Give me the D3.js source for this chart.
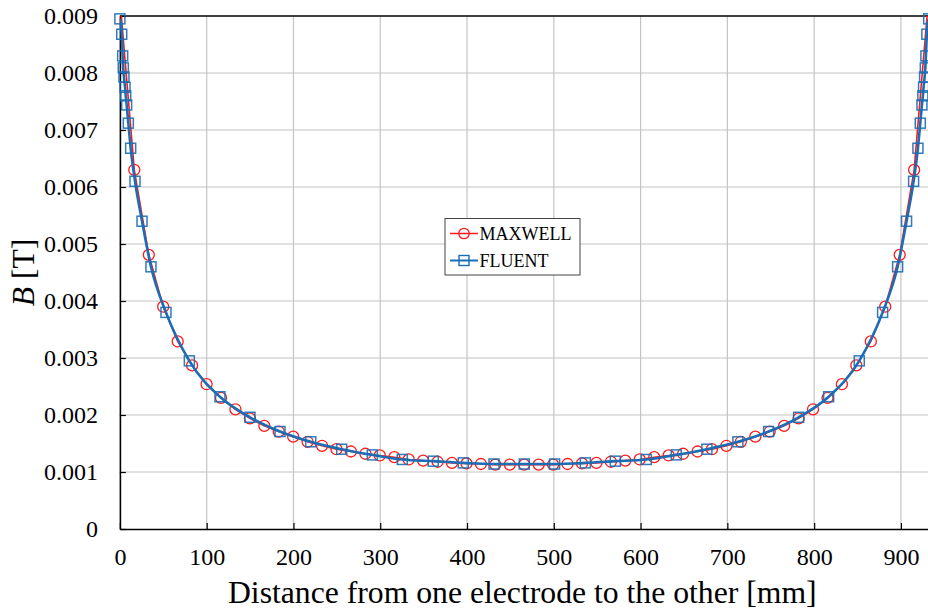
<!DOCTYPE html>
<html>
<head>
<meta charset="utf-8">
<script src="https://cdn.jsdelivr.net/npm/d3@7"></script>
<style>
  html, body { margin: 0; padding: 0; background: #fff; }
  svg { display: block; }
  text { font-family: "Liberation Serif", "Times New Roman", serif; fill: #000; }
</style>
</head>
<body>
<svg id="chart" width="928" height="615"></svg>
<script>
// Distance along the channel [mm] and magnetic flux density B [T]
const maxwellX = [0, 16.6, 33.3, 49.9, 66.6, 83.2, 99.9, 116.5, 133.1, 149.8, 166.4, 183.0, 199.7, 216.3,
  233.0, 249.6, 266.2, 282.9, 299.5, 316.2, 332.8, 349.4, 366.1, 382.7, 399.4, 416.0, 432.6, 449.3, 465.9,
  482.6, 499.2, 515.8, 532.5, 549.1, 565.8, 582.4, 599.0, 615.7, 632.3, 649.0, 665.6, 682.2, 698.9, 715.5,
  732.2, 748.8, 765.4, 782.1, 798.7, 815.4, 832.0, 848.6, 865.3, 881.9, 898.6, 915.2, 931.8];
const maxwellB = [0.0093, 0.0063, 0.00481, 0.0039, 0.00329, 0.00287, 0.00254, 0.0023, 0.0021, 0.00194,
  0.00181, 0.00171, 0.00162, 0.00153, 0.00146, 0.0014, 0.00136, 0.00132, 0.00129, 0.00126, 0.00122, 0.0012,
  0.00118, 0.00116, 0.00115, 0.00114, 0.00113, 0.00113, 0.00113,
  0.00113, 0.00113, 0.00114, 0.00115, 0.00116, 0.00118, 0.0012, 0.00122, 0.00126, 0.00129, 0.00132, 0.00136,
  0.0014, 0.00146, 0.00153, 0.00162, 0.00171, 0.00181, 0.00194, 0.0021, 0.0023, 0.00254, 0.00287, 0.00329,
  0.0039, 0.00481, 0.0063, 0.0093];

const fluentX = [0, 2.1, 3.2, 3.9, 4.7, 5.9, 6.7, 7.8, 9.7, 12.4, 17.4, 25.5, 35.8, 53.1, 80.0, 115.3,
  149.9, 184.5, 219.9, 255.6, 290.9, 325.4, 361.1, 395.7, 431.1, 466.0, 500.9, 536.3, 570.9, 606.6, 641.1,
  676.4, 712.1, 747.5, 782.1, 816.7, 852.0, 878.9, 896.2, 906.5, 914.6, 919.6, 922.3, 924.2, 925.3, 926.1,
  927.3, 928.1, 928.8, 929.9, 932.0];
const fluentB = [0.00895, 0.00868, 0.0083, 0.00809, 0.00793, 0.00775, 0.0076, 0.00744, 0.00712, 0.00668,
  0.0061, 0.0054, 0.0046, 0.0038, 0.00295, 0.00232, 0.00196, 0.00171, 0.00153, 0.0014, 0.0013, 0.00122,
  0.00119, 0.00116, 0.00114, 0.00114,
  0.00114, 0.00116, 0.00119, 0.00122, 0.0013, 0.0014, 0.00153, 0.00171, 0.00196, 0.00232, 0.00295, 0.0038,
  0.0046, 0.0054, 0.0061, 0.00668, 0.00712, 0.00744, 0.0076, 0.00775, 0.00793, 0.00809, 0.0083, 0.00868,
  0.00895];

const xTicks = [0, 100, 200, 300, 400, 500, 600, 700, 800, 900];
const yTicks = [0, 0.001, 0.002, 0.003, 0.004, 0.005, 0.006, 0.007, 0.008, 0.009];
const seriesNames = ["MAXWELL", "FLUENT"];
const xTitle = "Distance from one electrode to the other [mm]";

const RED = "#ff1a1a";
const BLUE = "#1b6db5";
const SERIF = "Liberation Serif, Times New Roman, serif";

const svg = d3.select("#chart");
const plotLeft = 119.9, plotTop = 16, plotBottom = 529, plotRight = 928.7;

const x = d3.scaleLinear().domain([0, 932]).range([plotLeft, plotRight]);
const y = d3.scaleLinear().domain([0, 0.009]).range([plotBottom, plotTop]);

// grid
const grid = svg.append("g").attr("stroke", "#c4c4c4").attr("stroke-width", 1.2);
grid.selectAll("line.v").data(xTicks.filter(d => d > 0)).join("line").attr("class", "v")
  .attr("x1", d => x(d)).attr("x2", d => x(d)).attr("y1", plotTop).attr("y2", plotBottom);
grid.selectAll("line.h").data(yTicks.filter(d => d > 0 && d < 0.009)).join("line").attr("class", "h")
  .attr("x1", plotLeft).attr("x2", plotRight + 5).attr("y1", d => y(d)).attr("y2", d => y(d));

// axes with inward ticks
const xAxis = d3.axisBottom(x).tickValues(xTicks).tickSizeInner(-6).tickSizeOuter(0).tickPadding(19)
  .tickFormat(d3.format("d"));
const gx = svg.append("g").attr("transform", `translate(0,${plotBottom})`).call(xAxis)
  .attr("font-family", SERIF).attr("font-size", 24);
gx.select(".domain").attr("stroke", "#000").attr("stroke-width", 1.6);
gx.selectAll(".tick line").attr("stroke", "#000").attr("stroke-width", 1.2);
gx.selectAll(".tick text").attr("fill", "#000");

const yAxis = d3.axisLeft(y).tickValues(yTicks).tickSizeInner(-6).tickSizeOuter(0).tickPadding(22)
  .tickFormat(d => d === 0 ? "0" : d3.format(".3f")(d));
const gy = svg.append("g").attr("transform", `translate(${plotLeft},0)`).call(yAxis)
  .attr("font-family", SERIF).attr("font-size", 24);
gy.select(".domain").attr("stroke", "#000").attr("stroke-width", 1.6);
gy.selectAll(".tick line").attr("stroke", "#000").attr("stroke-width", 1.2);
gy.selectAll(".tick text").attr("fill", "#000");

// top frame
svg.append("line").attr("x1", plotLeft).attr("x2", plotRight + 5).attr("y1", plotTop).attr("y2", plotTop)
  .attr("stroke", "#000").attr("stroke-width", 1.6);

// plot clipping
svg.append("clipPath").attr("id", "plotClip").append("rect")
  .attr("x", plotLeft).attr("y", plotTop).attr("width", plotRight - plotLeft + 10).attr("height", plotBottom - plotTop);

const maxwell = maxwellX.map((d, i) => ({x: d, b: maxwellB[i]}));
const fluent = fluentX.map((d, i) => ({x: d, b: fluentB[i]}));

const lineM = d3.line().x(d => x(d.x)).y(d => y(d.b));
const lineF = d3.line().x(d => x(d.x)).y(d => y(d.b)).curve(d3.curveMonotoneX);

svg.append("g").attr("clip-path", "url(#plotClip)").append("path").datum(maxwell).attr("d", lineM)
  .attr("fill", "none").attr("stroke", RED).attr("stroke-width", 1.6);

svg.append("g").selectAll("circle").data(maxwell.filter(d => d.b <= 0.009)).join("circle")
  .attr("cx", d => x(d.x)).attr("cy", d => y(d.b)).attr("r", 5.5)
  .attr("fill", "none").attr("stroke", RED).attr("stroke-width", 1.3);

svg.append("g").attr("clip-path", "url(#plotClip)").append("path").datum(fluent).attr("d", lineF)
  .attr("fill", "none").attr("stroke", BLUE).attr("stroke-width", 2.6);

const sq = 10;
svg.append("g").selectAll("rect").data(fluent.filter(d => d.b <= 0.009)).join("rect")
  .attr("x", d => x(d.x) - sq / 2).attr("y", d => y(d.b) - sq / 2)
  .attr("width", sq).attr("height", sq)
  .attr("fill", "none").attr("stroke", BLUE).attr("stroke-width", 1.5).attr("opacity", 0.9);

// legend
const lg = svg.append("g");
lg.append("rect").attr("x", 445).attr("y", 218.5).attr("width", 135).attr("height", 56.5)
  .attr("fill", "#fff").attr("stroke", "#444").attr("stroke-width", 1);
const rows = [
  {name: seriesNames[0], color: RED, y: 233.5, mark: "circle"},
  {name: seriesNames[1], color: BLUE, y: 260.5, mark: "rect"}
];
rows.forEach(r => {
  lg.append("line").attr("x1", 450).attr("x2", 478).attr("y1", r.y).attr("y2", r.y)
    .attr("stroke", r.color).attr("stroke-width", r.mark === "rect" ? 2 : 1.5);
  if (r.mark === "circle") {
    lg.append("circle").attr("cx", 464).attr("cy", r.y).attr("r", 5.2)
      .attr("fill", "none").attr("stroke", r.color).attr("stroke-width", 1.3);
  } else {
    lg.append("rect").attr("x", 459).attr("y", r.y - 5).attr("width", 10).attr("height", 10)
      .attr("fill", "none").attr("stroke", r.color).attr("stroke-width", 1.4);
  }
  lg.append("text").attr("x", 479.5).attr("y", r.y + 6.5).attr("font-size", 18).text(r.name);
});

// axis titles
svg.append("text").attr("x", (plotLeft + plotRight) / 2 - 2).attr("y", 603)
  .attr("text-anchor", "middle").attr("font-size", 31.7).text(xTitle);

const yt = svg.append("text").attr("transform", `translate(34,${(plotTop + plotBottom) / 2}) rotate(-90)`)
  .attr("text-anchor", "middle").attr("font-size", 31.5);
yt.append("tspan").attr("font-style", "italic").text("B");
yt.append("tspan").text(" [T]");
</script>
</body>
</html>
